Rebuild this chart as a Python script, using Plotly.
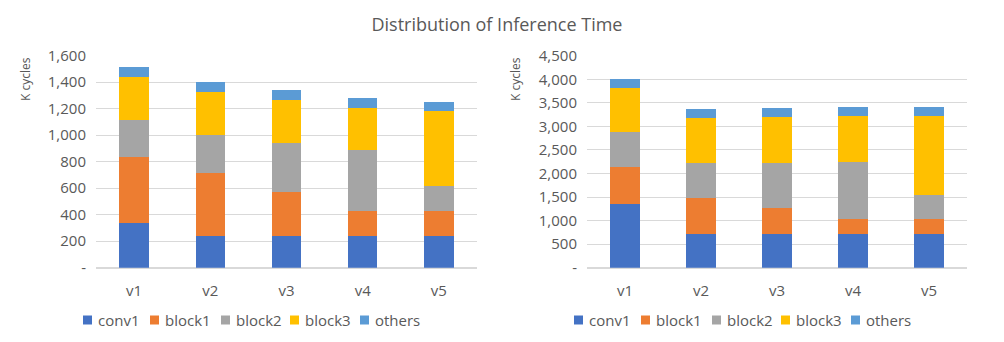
import plotly.graph_objects as go

versions = ["v1", "v2", "v3", "v4", "v5"]
parts = ["conv1", "block1", "block2", "block3", "others"]
colors = ["#4472C4", "#ED7D31", "#A5A5A5", "#FFC000", "#5B9BD5"]

# left chart (K cycles)
left_conv1 = [340, 239, 240, 239, 239]
left_block1 = [493, 476, 331, 186, 186]
left_block2 = [282, 284, 370, 461, 194]
left_block3 = [326, 327, 327, 322, 561]
left_others = [71, 75, 70, 73, 73]

# right chart (K cycles)
right_conv1 = [1351, 715, 715, 715, 715]
right_block1 = [786, 771, 552, 318, 318]
right_block2 = [736, 729, 962, 1210, 509]
right_block3 = [948, 969, 969, 969, 1670]
right_others = [184, 191, 184, 191, 191]

left_ticks = [0, 200, 400, 600, 800, 1000, 1200, 1400, 1600]
left_ticktext = ["-", "200", "400", "600", "800", "1,000", "1,200", "1,400", "1,600"]
right_ticks = [0, 500, 1000, 1500, 2000, 2500, 3000, 3500, 4000, 4500]
right_ticktext = ["-", "500", "1,000", "1,500", "2,000", "2,500", "3,000", "3,500", "4,000", "4,500"]

FONT = "Open Sans"
GREY = "#595959"
W, H = 1004, 342

left = [left_conv1, left_block1, left_block2, left_block3, left_others]
right = [right_conv1, right_block1, right_block2, right_block3, right_others]

fig = go.Figure()
for name, col, vals in zip(parts, colors, left):
    fig.add_trace(go.Bar(x=versions, y=vals, name=name, marker_color=col,
                         marker_line_width=0, xaxis="x", yaxis="y", showlegend=False))
for name, col, vals in zip(parts, colors, right):
    fig.add_trace(go.Bar(x=versions, y=vals, name=name, marker_color=col,
                         marker_line_width=0, xaxis="x2", yaxis="y2", showlegend=False))

# hand-made legends (Excel style: small square + text) under each chart
shapes = []
annotations = []
legend_offsets = [0, 67, 138, 207, 277]  # px from legend start to each square
for start in (83, 574):
    for name, col, off in zip(parts, colors, legend_offsets):
        x0 = start + off
        shapes.append(dict(type="rect", xref="paper", yref="paper",
                           x0=x0 / W, x1=(x0 + 9) / W,
                           y0=1 - 324.5 / H, y1=1 - 315.5 / H,
                           fillcolor=col, line_width=0))
        annotations.append(dict(text=name, x=(x0 + 13) / W, y=1 - 320 / H,
                                xref="paper", yref="paper", xanchor="left",
                                yanchor="middle", showarrow=False,
                                font=dict(family=FONT, size=15, color=GREY)))

for xpos in (25, 515):
    annotations.append(dict(text="K cycles", x=xpos / W, y=1 - 79 / H,
                            xref="paper", yref="paper", textangle=-90,
                            xanchor="center", yanchor="middle", showarrow=False,
                            font=dict(family=FONT, size=12, color=GREY)))

tickfont = dict(family=FONT, size=15, color=GREY)
ydom = [1 - 267.7 / H, 1 - 55.7 / H]

fig.update_layout(
    width=W, height=H,
    margin=dict(l=0, r=0, t=0, b=0, pad=0, autoexpand=False),
    paper_bgcolor="white", plot_bgcolor="white",
    barmode="stack", bargap=0.615,
    font=dict(family=FONT, color=GREY),
    title=dict(text="Distribution of Inference Time", x=0.495, xanchor="center",
               y=1 - 25 / H, yanchor="middle", automargin=False,
               font=dict(family=FONT, size=18, color=GREY)),
    xaxis=dict(domain=[96 / W, 477 / W], anchor="y", showgrid=False, showline=False,
               ticks="", tickfont=tickfont, ticklabelstandoff=12, automargin=False),
    xaxis2=dict(domain=[587 / W, 967 / W], anchor="y2", showgrid=False, showline=False,
                ticks="", tickfont=tickfont, ticklabelstandoff=12, automargin=False),
    yaxis=dict(domain=ydom, anchor="x", range=[0, 1600], tickvals=left_ticks,
               ticktext=left_ticktext, showgrid=True, gridcolor="#D9D9D9",
               zeroline=True, zerolinecolor="#D9D9D9", showline=False, ticks="",
               tickfont=tickfont, ticklabelstandoff=9, automargin=False),
    yaxis2=dict(domain=ydom, anchor="x2", range=[0, 4500], tickvals=right_ticks,
                ticktext=right_ticktext, showgrid=True, gridcolor="#D9D9D9",
                zeroline=True, zerolinecolor="#D9D9D9", showline=False, ticks="",
                tickfont=tickfont, ticklabelstandoff=9, automargin=False),
    shapes=shapes,
    annotations=annotations,
)

# drop the browser's default 8px body margin so the figure sits at the page corner
fig.write_html("out.html", config={"displayModeBar": False},
               post_script="document.body.style.margin='0';document.body.style.overflow='hidden';")
